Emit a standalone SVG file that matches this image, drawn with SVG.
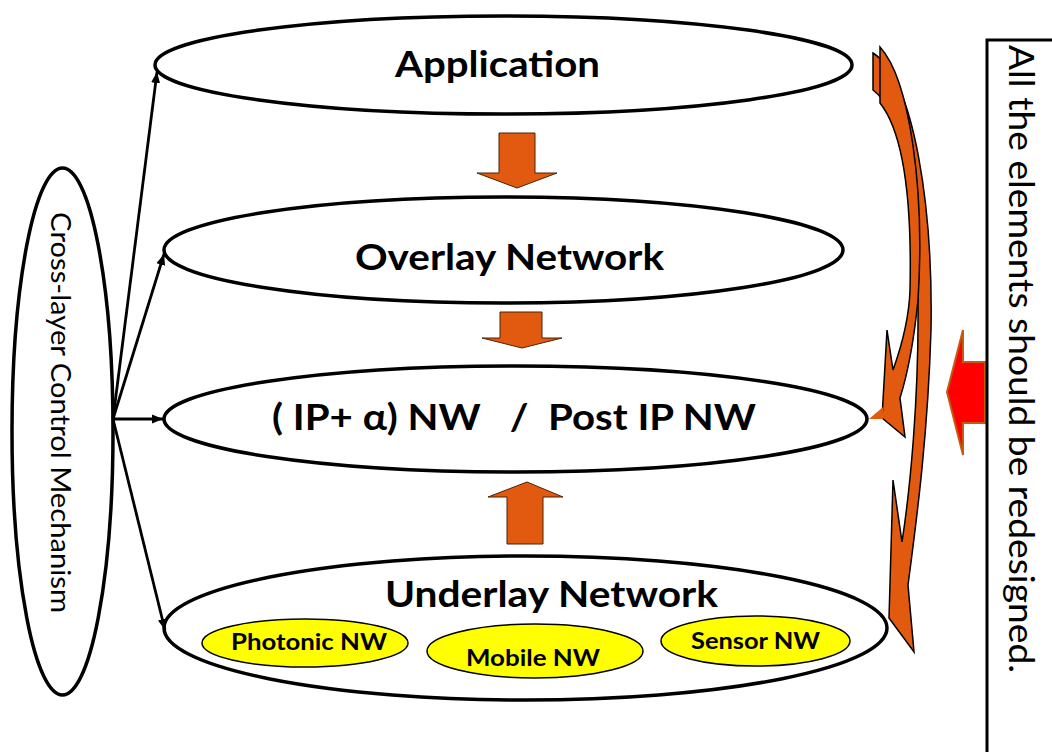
<svg xmlns="http://www.w3.org/2000/svg" width="1052" height="752" viewBox="0 0 1052 752">
<defs>
<marker id="ah" markerUnits="userSpaceOnUse" markerWidth="12" markerHeight="10" refX="11" refY="5" orient="auto"><path d="M0,0.5 L11,5 L0,9.5 Z" fill="#000"/></marker>
</defs>
<style>
.layer{fill:#fff;stroke:#000;stroke-width:3.5}
.sub{fill:#ffff00;stroke:#000;stroke-width:1.5}
.big{font-family:Lato,'Liberation Sans',sans-serif;font-weight:700;font-size:37px;fill:#000}
.small{font-family:Lato,'Liberation Sans',sans-serif;font-weight:700;font-size:22px;fill:#000}
.side{font-family:Lato,'Liberation Sans',sans-serif;font-weight:400;fill:#000}
.blk{fill:#e15a0f;stroke:#4a2306;stroke-width:1}
.curve{fill:#e15a0f;stroke:#000;stroke-width:1.5;stroke-linejoin:miter}
.conn{stroke:#000;stroke-width:2.8;fill:none;marker-end:url(#ah)}
</style>
<rect width="1052" height="752" fill="#fff"/>

<g id="application"><ellipse class="layer" cx="503.5" cy="65" rx="348.5" ry="49"/><text class="big" x="395" y="77" textLength="205" lengthAdjust="spacingAndGlyphs">Application</text></g>
<g id="overlay"><ellipse class="layer" cx="503.5" cy="250" rx="339.5" ry="53"/><text class="big" x="355" y="270" textLength="309" lengthAdjust="spacingAndGlyphs">Overlay Network</text></g>
<g id="ipnw"><ellipse class="layer" cx="515.5" cy="419" rx="351.5" ry="53"/><text class="big" x="272" y="430" textLength="484" lengthAdjust="spacingAndGlyphs" xml:space="preserve" style="white-space:pre">( IP+ α) NW   /  Post IP NW</text></g>
<g id="underlay"><ellipse class="layer" cx="525.5" cy="628" rx="361.5" ry="72"/><text class="big" x="385" y="607" textLength="333" lengthAdjust="spacingAndGlyphs">Underlay Network</text></g>
<g id="photonic"><ellipse class="sub" cx="305" cy="643" rx="103" ry="24"/><text class="small" x="231" y="650" textLength="156" lengthAdjust="spacingAndGlyphs">Photonic NW</text></g>
<g id="mobile"><ellipse class="sub" cx="535" cy="651" rx="108" ry="27"/><text class="small" x="466" y="666" textLength="134" lengthAdjust="spacingAndGlyphs">Mobile NW</text></g>
<g id="sensor"><ellipse class="sub" cx="755.5" cy="641" rx="94.5" ry="25"/><text class="small" x="691" y="649" textLength="129" lengthAdjust="spacingAndGlyphs">Sensor NW</text></g>
<g id="crosslayer"><ellipse class="layer" cx="62.5" cy="431.5" rx="50.5" ry="263.5"/><text class="side" font-size="27" transform="rotate(90)" x="212" y="-51" textLength="401" lengthAdjust="spacingAndGlyphs">Cross-layer Control Mechanism</text></g>

<g id="flow-arrows">
<polygon class="blk" points="499,133 535,133 535,173 557,173 517,188 477,173 499,173"/>
<polygon class="blk" points="500,312 542,312 542,338 562,338 522,348 482,338 500,338"/>
<polygon class="blk" points="527,482 563,497 543,497 543,544 507,544 507,497 488,497"/>
</g>

<g id="connectors">
<line class="conn" x1="113" y1="419" x2="157" y2="72"/>
<line class="conn" x1="113" y1="419" x2="164" y2="254"/>
<line class="conn" x1="113" y1="419" x2="163" y2="419"/>
<line class="conn" x1="113" y1="419" x2="165" y2="630"/>
</g>

<g id="feedback-arrows">
<path class="curve" d="M873,53 C915,80 933,210 931,330 C928,430 918,510 908,585 L914,652 L889,618 L893,480 L902,542 C910,490 919,400 918,300 C917,200 903,112 873,90 Z"/>
<path class="curve" d="M880,47 C910,80 925,190 918,300 Q912,360 900,398 L905,437 L882,418 L887,330 L893,370 C902,345 909,320 910,290 C912,200 903,132 880,103 Z"/>
<polygon points="869,419 883,407 883,419" fill="#e15a0f"/>
</g>

<g id="redesign">
<polygon points="947,392 963,330 963,362 985,362 985,423 963,423 963,455" fill="#ff0000" stroke="#c55a11" stroke-width="2"/>
<rect x="987" y="40" width="80" height="730" fill="none" stroke="#000" stroke-width="3"/>
<text class="side" font-size="35" transform="rotate(90)" x="45" y="-1009" textLength="628" lengthAdjust="spacingAndGlyphs">All the elements should be redesigned.</text>
</g>
</svg>
